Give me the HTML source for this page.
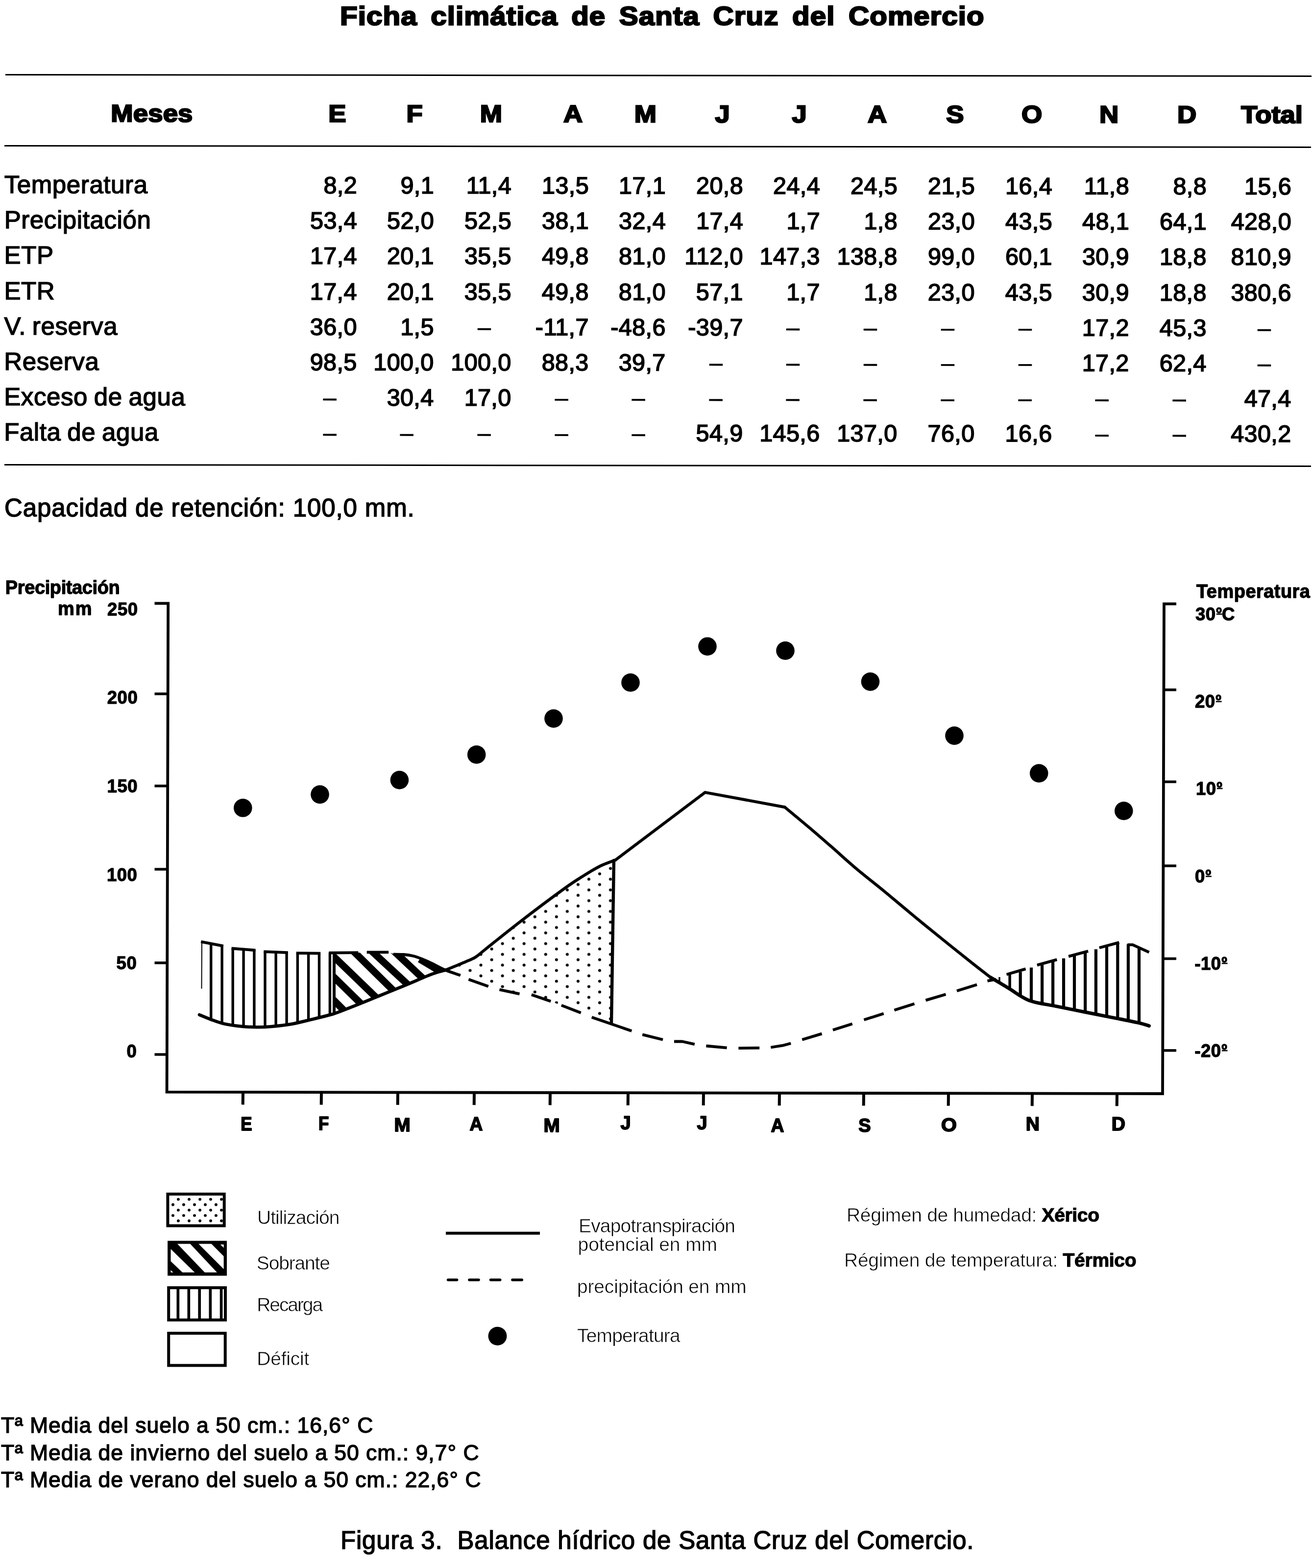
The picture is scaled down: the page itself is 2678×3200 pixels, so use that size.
<!DOCTYPE html>
<html lang="es">
<head>
<meta charset="utf-8">
<title>Ficha climática de Santa Cruz del Comercio</title>
<style>
html,body{margin:0;padding:0;background:#fff;}
body{width:2678px;height:3200px;position:relative;overflow:hidden;color:#000;
  font-family:"Liberation Sans","DejaVu Sans",sans-serif;font-size:51px;}
h1,p,table{margin:0;padding:0;position:absolute;white-space:nowrap;}
.title{transform:scaleX(1.09);transform-origin:0 50%;font-size:53.5px;line-height:70px;font-weight:bold;letter-spacing:1.0px;word-spacing:9.35px;
  -webkit-text-stroke:2.6px #000;}
hr.rule{position:absolute;margin:0;padding:0;border:0;height:3.2px;background:#000;
  transform:rotate(0.065deg);transform-origin:0 50%;}
table.ficha{transform:rotate(0.065deg);transform-origin:0 0;border-collapse:separate;border-spacing:0;table-layout:fixed;}
table.ficha th,table.ficha td{padding:0;margin:0;overflow:visible;white-space:nowrap;box-sizing:border-box;
  vertical-align:top;line-height:60px;}
table.ficha thead th{height:144.9px;padding-top:46.97px;font-size:49.4px;font-weight:bold;
  text-align:center;-webkit-text-stroke:2.6px #000;}
table.ficha thead th span{display:inline-block;transform:scaleX(1.1);}
table.ficha thead th.m{padding-left:41.0px;letter-spacing:0.2px;}
table.ficha tbody th,table.ficha tbody td{height:72.2px;padding-top:6.10px;font-weight:normal;
  -webkit-text-stroke:1.5px #000;}
table.ficha tbody th{text-align:left;padding-left:0px;letter-spacing:0.6px;word-spacing:-2px;}
table.ficha tbody td{text-align:right;position:relative;left:2.4px;font-size:48.5px;-webkit-text-stroke:1.7px #000;letter-spacing:0.4px;padding-right:0px;}
table.ficha tbody td.d{padding-right:41.8px;letter-spacing:0;-webkit-text-stroke:0.6px #000;}
table.ficha tbody td:last-child{padding-right:41px;}
table.ficha tbody td.d:last-child{padding-right:82.8px;}
table.ficha tbody tr.first th,table.ficha tbody tr.first td{height:114.22px;padding-top:48.12px;}
table.ficha tbody tr.last th,table.ficha tbody tr.last td{height:100.78px;}
.cap{line-height:60px;letter-spacing:0.9px;-webkit-text-stroke:1.5px #000;}
svg{position:absolute;left:0;top:0;}
svg text{font-family:"Liberation Sans","DejaVu Sans",sans-serif;fill:#000;}
.note{font-size:44.5px;line-height:56px;letter-spacing:1.0px;-webkit-text-stroke:1.4px #000;}
.figcap{line-height:60px;letter-spacing:0.8px;-webkit-text-stroke:1.5px #000;}
</style>
</head>
<body>
<h1 class="title" style="left:693.8px;top:-1.55px">Ficha climática de Santa Cruz del Comercio</h1>
<hr class="rule" style="left:10.5px;top:150.90px;width:2665.5px">
<hr class="rule" style="left:9px;top:295.80px;width:2667px">
<hr class="rule" style="left:9px;top:947.00px;width:2667px">
<table class="ficha" style="left:9px;top:153.9px;width:2666px">
<colgroup><col style="width:561px"><col style="width:157px"><col style="width:157px"><col style="width:158px"><col style="width:158px"><col style="width:157px"><col style="width:158px"><col style="width:157px"><col style="width:158px"><col style="width:158px"><col style="width:158px"><col style="width:157px"><col style="width:158px"><col style="width:214px"></colgroup>
<thead><tr>
<th class="m"><span>Meses</span></th>
<th style="padding-left:79.0px"><span>E</span></th>
<th style="padding-left:81.0px"><span>F</span></th>
<th style="padding-left:79.0px"><span>M</span></th>
<th style="padding-left:98.0px"><span>A</span></th>
<th style="padding-left:78.0px"><span>M</span></th>
<th style="padding-left:77.0px"><span>J</span></th>
<th style="padding-left:77.0px"><span>J</span></th>
<th style="padding-left:80.0px"><span>A</span></th>
<th style="padding-left:81.0px"><span>S</span></th>
<th style="padding-left:79.0px"><span>O</span></th>
<th style="padding-left:79.0px"><span>N</span></th>
<th style="padding-left:82.0px"><span>D</span></th>
<th style="padding-left:56.0px"><span>Total</span></th>
</tr></thead>
<tbody>
<tr class="first"><th scope="row">Temperatura</th><td>8,2</td><td>9,1</td><td>11,4</td><td>13,5</td><td>17,1</td><td>20,8</td><td>24,4</td><td>24,5</td><td>21,5</td><td>16,4</td><td>11,8</td><td>8,8</td><td>15,6</td></tr>
<tr><th scope="row">Precipitación</th><td>53,4</td><td>52,0</td><td>52,5</td><td>38,1</td><td>32,4</td><td>17,4</td><td>1,7</td><td>1,8</td><td>23,0</td><td>43,5</td><td>48,1</td><td>64,1</td><td>428,0</td></tr>
<tr><th scope="row">ETP</th><td>17,4</td><td>20,1</td><td>35,5</td><td>49,8</td><td>81,0</td><td>112,0</td><td>147,3</td><td>138,8</td><td>99,0</td><td>60,1</td><td>30,9</td><td>18,8</td><td>810,9</td></tr>
<tr><th scope="row">ETR</th><td>17,4</td><td>20,1</td><td>35,5</td><td>49,8</td><td>81,0</td><td>57,1</td><td>1,7</td><td>1,8</td><td>23,0</td><td>43,5</td><td>30,9</td><td>18,8</td><td>380,6</td></tr>
<tr><th scope="row">V. reserva</th><td>36,0</td><td>1,5</td><td class="d">–</td><td>-11,7</td><td>-48,6</td><td>-39,7</td><td class="d">–</td><td class="d">–</td><td class="d">–</td><td class="d">–</td><td>17,2</td><td>45,3</td><td class="d">–</td></tr>
<tr><th scope="row">Reserva</th><td>98,5</td><td>100,0</td><td>100,0</td><td>88,3</td><td>39,7</td><td class="d">–</td><td class="d">–</td><td class="d">–</td><td class="d">–</td><td class="d">–</td><td>17,2</td><td>62,4</td><td class="d">–</td></tr>
<tr><th scope="row">Exceso de agua</th><td class="d">–</td><td>30,4</td><td>17,0</td><td class="d">–</td><td class="d">–</td><td class="d">–</td><td class="d">–</td><td class="d">–</td><td class="d">–</td><td class="d">–</td><td class="d">–</td><td class="d">–</td><td>47,4</td></tr>
<tr class="last"><th scope="row">Falta de agua</th><td class="d">–</td><td class="d">–</td><td class="d">–</td><td class="d">–</td><td class="d">–</td><td>54,9</td><td>145,6</td><td>137,0</td><td>76,0</td><td>16,6</td><td class="d">–</td><td class="d">–</td><td>430,2</td></tr>
</tbody></table>
<p class="cap" style="left:9.0px;top:1006.52px">Capacidad de retención: 100,0 mm.</p>
<svg width="2678" height="3200" viewBox="0 0 2678 3200" fill="none" stroke="#000" stroke-width="6">
<defs>
<pattern id="dots" patternUnits="userSpaceOnUse" x="342.40" y="1339.42" width="44.08" height="21.92">
<circle cx="0" cy="5.48" r="3.0" fill="#000" stroke="none"/><circle cx="44.08" cy="5.48" r="3.0" fill="#000" stroke="none"/>
<circle cx="22.04" cy="16.44" r="3.0" fill="#000" stroke="none"/>
</pattern>
</defs>
<g class="axes" stroke-width="5.8" stroke-linecap="butt">
<path d="M315.5 1231.3 L343.2 1231.3 L340.6 2228.6 L2373.0 2232.0 L2376.0 1232.3 L2401 1232.3" stroke-linejoin="miter"/>
<line x1="315.5" y1="1416" x2="342.7" y2="1416" stroke-width="5.4"/>
<line x1="315.5" y1="1604" x2="342.2" y2="1604" stroke-width="5.4"/>
<line x1="315.5" y1="1774" x2="341.8" y2="1774" stroke-width="5.4"/>
<line x1="315.5" y1="1965" x2="341.3" y2="1965" stroke-width="5.4"/>
<line x1="315.5" y1="2152" x2="340.8" y2="2152" stroke-width="5.4"/>
<line x1="2375.5" y1="1407.8" x2="2401" y2="1407.8" stroke-width="5.4"/>
<line x1="2374.9" y1="1595.5" x2="2401" y2="1595.5" stroke-width="5.4"/>
<line x1="2374.4" y1="1767" x2="2401" y2="1767" stroke-width="5.4"/>
<line x1="2373.8" y1="1956.5" x2="2401" y2="1956.5" stroke-width="5.4"/>
<line x1="2373.3" y1="2143.8" x2="2401" y2="2143.8" stroke-width="5.4"/>
<line x1="496" y1="2228.9" x2="495.7" y2="2254.4" stroke-width="6"/>
<line x1="656" y1="2229.1" x2="655.7" y2="2254.6" stroke-width="6"/>
<line x1="812" y1="2229.4" x2="811.7" y2="2254.9" stroke-width="6"/>
<line x1="968" y1="2229.6" x2="967.7" y2="2255.1" stroke-width="6"/>
<line x1="1123" y1="2229.9" x2="1122.7" y2="2255.4" stroke-width="6"/>
<line x1="1282" y1="2230.2" x2="1281.7" y2="2255.7" stroke-width="6"/>
<line x1="1436" y1="2230.4" x2="1435.7" y2="2255.9" stroke-width="6"/>
<line x1="1591" y1="2230.7" x2="1590.7" y2="2256.2" stroke-width="6"/>
<line x1="1763" y1="2231.0" x2="1762.7" y2="2256.5" stroke-width="6"/>
<line x1="1936" y1="2231.3" x2="1935.7" y2="2256.8" stroke-width="6"/>
<line x1="2107" y1="2231.6" x2="2106.7" y2="2257.1" stroke-width="6"/>
<line x1="2280" y1="2231.8" x2="2279.7" y2="2257.3" stroke-width="6"/>
</g>
<g class="labels" font-weight="bold" stroke-linejoin="round">
<text x="10.8" y="1211.5" font-size="38" textLength="234" lengthAdjust="spacing" stroke="#000" stroke-width="1.3" stroke-linejoin="round">Precipitación</text>
<text x="118" y="1255" font-size="38" textLength="69.5" lengthAdjust="spacing" stroke="#000" stroke-width="1.3" stroke-linejoin="round">mm</text>
<text x="281.5" y="1255.7" font-size="36.5" text-anchor="end" stroke="#000" stroke-width="1.3" stroke-linejoin="round" letter-spacing="0.5">250</text>
<text x="281.2" y="1436.3" font-size="36.5" text-anchor="end" stroke="#000" stroke-width="1.3" stroke-linejoin="round" letter-spacing="0.5">200</text>
<text x="281" y="1616.7" font-size="36.5" text-anchor="end" stroke="#000" stroke-width="1.3" stroke-linejoin="round" letter-spacing="0.5">150</text>
<text x="280.4" y="1797.7" font-size="36.5" text-anchor="end" stroke="#000" stroke-width="1.3" stroke-linejoin="round" letter-spacing="0.5">100</text>
<text x="279.2" y="1977.7" font-size="36.5" text-anchor="end" stroke="#000" stroke-width="1.3" stroke-linejoin="round" letter-spacing="0.5">50</text>
<text x="279.2" y="2158.2" font-size="36.5" text-anchor="end" stroke="#000" stroke-width="1.3" stroke-linejoin="round" letter-spacing="0.5">0</text>
<text x="2442" y="1220.4" font-size="38" textLength="232" lengthAdjust="spacing" stroke="#000" stroke-width="1.3" stroke-linejoin="round">Temperatura</text>
<text x="2440" y="1265.7" font-size="36.5" stroke="#000" stroke-width="1.3" letter-spacing="0.4">30<tspan font-size="31.5" dy="-4" dx="0.8">º</tspan><tspan dy="4">C</tspan></text>
<line x1="2482.8" y1="1253.3" x2="2494.6" y2="1253.3" stroke-width="2.6"/>
<text x="2439" y="1444.2" font-size="36.5" stroke="#000" stroke-width="1.3" letter-spacing="0.4">20<tspan font-size="31.5" dy="-4" dx="0.8">º</tspan></text>
<line x1="2481.8" y1="1431.8" x2="2493.6" y2="1431.8" stroke-width="2.6"/>
<text x="2441" y="1621.5" font-size="36.5" stroke="#000" stroke-width="1.3" letter-spacing="0.4">10<tspan font-size="31.5" dy="-4" dx="0.8">º</tspan></text>
<line x1="2483.8" y1="1609.1" x2="2495.6" y2="1609.1" stroke-width="2.6"/>
<text x="2439" y="1801.0" font-size="36.5" stroke="#000" stroke-width="1.3" letter-spacing="0.4">0<tspan font-size="31.5" dy="-4" dx="0.8">º</tspan></text>
<line x1="2461.1" y1="1788.6" x2="2472.9" y2="1788.6" stroke-width="2.6"/>
<text x="2438.5" y="1978.5" font-size="36.5" stroke="#000" stroke-width="1.3" letter-spacing="0.4">-10<tspan font-size="31.5" dy="-4" dx="0.8">º</tspan></text>
<line x1="2493.8" y1="1966.1" x2="2505.6" y2="1966.1" stroke-width="2.6"/>
<text x="2438.5" y="2156.5" font-size="36.5" stroke="#000" stroke-width="1.3" letter-spacing="0.4">-20<tspan font-size="31.5" dy="-4" dx="0.8">º</tspan></text>
<line x1="2493.8" y1="2144.1" x2="2505.6" y2="2144.1" stroke-width="2.6"/>
<text x="0" y="0" font-size="38" text-anchor="middle" stroke="#000" stroke-width="1.9" stroke-linejoin="round" transform="translate(503 2307.4) scale(0.92 1)">E</text>
<text x="0" y="0" font-size="38" text-anchor="middle" stroke="#000" stroke-width="1.9" stroke-linejoin="round" transform="translate(660.7 2306.4) scale(0.92 1)">F</text>
<text x="0" y="0" font-size="38" text-anchor="middle" stroke="#000" stroke-width="1.9" stroke-linejoin="round" transform="translate(821 2308.9) scale(1.05 1)">M</text>
<text x="0" y="0" font-size="38" text-anchor="middle" stroke="#000" stroke-width="1.9" stroke-linejoin="round" transform="translate(972 2307.4) scale(0.98 1)">A</text>
<text x="0" y="0" font-size="38" text-anchor="middle" stroke="#000" stroke-width="1.9" stroke-linejoin="round" transform="translate(1126 2309.9) scale(1.05 1)">M</text>
<text x="0" y="0" font-size="38" text-anchor="middle" stroke="#000" stroke-width="1.9" stroke-linejoin="round" transform="translate(1277 2304.9) scale(1.0 1)">J</text>
<text x="0" y="0" font-size="38" text-anchor="middle" stroke="#000" stroke-width="1.9" stroke-linejoin="round" transform="translate(1433 2305.2) scale(1.0 1)">J</text>
<text x="0" y="0" font-size="38" text-anchor="middle" stroke="#000" stroke-width="1.9" stroke-linejoin="round" transform="translate(1587 2309.6) scale(0.98 1)">A</text>
<text x="0" y="0" font-size="38" text-anchor="middle" stroke="#000" stroke-width="1.9" stroke-linejoin="round" transform="translate(1765 2309.6) scale(1.0 1)">S</text>
<text x="0" y="0" font-size="38" text-anchor="middle" stroke="#000" stroke-width="1.9" stroke-linejoin="round" transform="translate(1937 2309.0) scale(1.08 1)">O</text>
<text x="0" y="0" font-size="38" text-anchor="middle" stroke="#000" stroke-width="1.9" stroke-linejoin="round" transform="translate(2108 2307.4) scale(1.03 1)">N</text>
<text x="0" y="0" font-size="38" text-anchor="middle" stroke="#000" stroke-width="1.9" stroke-linejoin="round" transform="translate(2283 2307.4) scale(1.03 1)">D</text>
</g>
<g class="temp" fill="#000" stroke="none">
<circle cx="495.8" cy="1648.8" r="18.8"/>
<circle cx="653" cy="1621.4" r="18.8"/>
<circle cx="815.4" cy="1591.9" r="18.8"/>
<circle cx="972.7" cy="1540.0" r="18.8"/>
<circle cx="1130" cy="1466.4" r="18.8"/>
<circle cx="1287" cy="1393.0" r="18.8"/>
<circle cx="1444" cy="1319.2" r="18.8"/>
<circle cx="1603" cy="1327.9" r="18.8"/>
<circle cx="1776.5" cy="1391.1" r="18.8"/>
<circle cx="1948" cy="1501.4" r="18.8"/>
<circle cx="2120.7" cy="1578.1" r="18.8"/>
<circle cx="2293.8" cy="1654.9" r="18.8"/>
</g>
<clipPath id="sobclip"><polygon points="682.0,1944.4 731.3,1944.2 793.2,1943.6 802.9,1946.5 824.2,1948.0 843.5,1951.0 862.9,1957.7 882.2,1966.4 909.3,1979.8 882.2,1987.8 824.2,2011.9 746.8,2043.5 689.6,2066.0 682.0,2069.0"/></clipPath>
<g class="sobrante" clip-path="url(#sobclip)" stroke-width="14.5" stroke-linecap="butt">
<line x1="654.6" y1="2014.6" x2="730.5" y2="2090.5"/>
<line x1="654.3" y1="1967.5" x2="763.7" y2="2074.7"/>
<line x1="654.1" y1="1926.1" x2="794.9" y2="2062.0"/>
<line x1="697.0" y1="1917.1" x2="831.4" y2="2049.7"/>
<line x1="732.9" y1="1917.0" x2="859.3" y2="2034.3"/>
<line x1="783.4" y1="1921.6" x2="890.0" y2="2021.9"/>
<line x1="856.7" y1="1957.3" x2="934.0" y2="2003.4"/>
</g>
<polygon class="utilizacion" points="909.3,1979.8 950.0,1963.0 970.6,1953.4 1059.4,1882.8 1150.4,1814.5 1218.7,1770.1 1253.0,1756.0 1248.0,2088.0 1185.7,2067.0 1124.2,2043.6 1060.5,2028.3 996.8,2012.9 939.8,1990.5" fill="url(#dots)" stroke="none"/>
<g class="etp" stroke-width="6" stroke-linejoin="round" stroke-linecap="round">
<path d="M407.0 2070.9 C410.9 2072.5 422.3 2077.5 430.7 2080.6 C439.1 2083.7 446.5 2086.9 457.4 2089.3 C468.3 2091.7 484.7 2093.8 496.0 2095.0 C507.3 2096.2 515.3 2096.2 525.0 2096.2 C534.7 2096.2 542.7 2096.0 554.0 2095.0 C565.3 2094.0 580.0 2092.5 592.9 2090.3 C605.8 2088.1 618.8 2084.7 631.6 2081.6 C644.5 2078.5 660.3 2074.6 670.0 2072.0 C679.7 2069.4 676.8 2070.8 689.6 2066.0 C702.4 2061.2 724.4 2052.5 746.8 2043.5 C769.2 2034.5 801.6 2021.2 824.2 2011.9 C846.8 2002.6 868.0 1993.2 882.2 1987.8 C896.4 1982.4 904.8 1981.1 909.3 1979.8" stroke-width="6.5"/>
<path d="M909.3 1979.8 C916.1 1977.0 939.8 1967.4 950.0 1963.0 C960.2 1958.6 963.9 1957.6 970.6 1953.4 C977.3 1949.2 975.2 1949.8 990.0 1938.0 C1004.8 1926.2 1032.7 1903.4 1059.4 1882.8 C1086.1 1862.2 1128.6 1830.3 1150.4 1814.5 C1172.2 1798.7 1177.6 1795.8 1190.0 1788.0 C1202.4 1780.2 1214.0 1773.0 1225.0 1767.5 C1236.0 1762.0 1250.8 1757.3 1255.9 1755.3"/>
<path d="M1255.9 1755.3 L1439.2 1617.1 L1601.8 1647.2"/>
<path d="M1601.8 1647.2 C1610.2 1654.2 1636.1 1675.6 1652.2 1689.2 C1668.3 1702.8 1682.2 1715.0 1698.3 1729.1 C1714.4 1743.2 1731.1 1758.6 1749.0 1773.7 C1766.9 1788.8 1786.2 1803.6 1805.9 1819.8 C1825.6 1836.0 1846.8 1854.1 1867.3 1871.0 C1887.8 1887.9 1909.1 1905.1 1928.8 1921.0 C1948.5 1936.9 1970.0 1954.1 1985.5 1966.4 C2001.0 1978.7 2015.9 1990.0 2022.0 1994.7"/>
<path d="M2022.0 1994.7 C2025.0 1996.5 2033.7 2001.7 2040.2 2005.6 C2046.7 2009.5 2054.1 2013.9 2061.1 2018.3 C2068.1 2022.7 2075.5 2028.1 2082.0 2032.0 C2088.5 2035.9 2093.7 2039.0 2100.0 2041.5 C2106.3 2044.0 2111.7 2045.2 2120.0 2047.0 C2128.3 2048.8 2137.6 2050.1 2149.8 2052.4 C2162.0 2054.8 2178.6 2058.2 2193.0 2061.1 C2207.4 2064.0 2221.9 2066.9 2236.3 2069.8 C2250.7 2072.7 2265.1 2075.5 2279.5 2078.4 C2293.9 2081.3 2311.8 2084.6 2322.8 2087.1 C2333.8 2089.6 2341.7 2092.5 2345.5 2093.6" stroke-width="7"/>
<line x1="1253" y1="1756" x2="1248" y2="2088" stroke-width="6.4"/>
</g>
<g class="prec" stroke-width="5.8" stroke-linecap="butt" stroke-linejoin="round">
<line x1="410.3" y1="1921.9" x2="455.8" y2="1930.6" stroke-linecap="butt"/>
<line x1="472.5" y1="1935.5" x2="521.6" y2="1939.3" stroke-linecap="butt"/>
<line x1="538.3" y1="1942.2" x2="587.8" y2="1944.2" stroke-linecap="butt"/>
<line x1="604.7" y1="1945.2" x2="654.2" y2="1945.7" stroke-linecap="butt"/>
<path d="M671.3 1944.6 L731.3 1944.2"/>
<path d="M748.7 1943.4 L793.2 1943.4"/>
<path d="M802.9 1947.5 C806.5 1947.6 817.4 1947.4 824.2 1948.0 C831.0 1948.6 837.0 1949.4 843.5 1951.0 C850.0 1952.6 856.4 1955.1 862.9 1957.7 C869.4 1960.3 874.5 1962.7 882.2 1966.4 C889.9 1970.1 899.7 1975.8 909.3 1979.8 C918.9 1983.8 934.7 1988.7 939.8 1990.5"/>
<path d="M956.5 1998.7 L996.8 2012.9"/>
<path d="M1019.5 2019.7 L1060.5 2028.3"/>
<path d="M1084.9 2029.9 L1124.2 2043.6"/>
<path d="M1145.9 2051.6 L1185.7 2067.0"/>
<path d="M1207.8 2076.1 L1289.3 2103.9"/>
<path d="M1311.2 2111.4 L1353.0 2121.7"/>
<path d="M1376.0 2125.5 L1392.7 2125.5 L1417.8 2131.1"/>
<path d="M1441.4 2134.5 L1483.6 2138.3"/>
<path d="M1507.4 2139.1 L1550.2 2138.6"/>
<path d="M1573.3 2137.5 L1597.6 2133.7 L1614.2 2129.3"/>
<path d="M1637.3 2121.7 L1677.5 2109.6"/>
<path d="M1700.0 2102.0 L1739.7 2089.5"/>
<path d="M1763.5 2081.3 L1803.7 2068.5"/>
<path d="M1825.5 2061.4 L1866.5 2048.6"/>
<path d="M1889.5 2041.4 L1930.5 2029.3"/>
<path d="M1953.0 2022.2 L1994.0 2009.6"/>
<path d="M2015.5 2001.9 L2033.0 1998.6"/>
<path d="M2054.6 1988.7 L2093.5 1977.4"/>
<path d="M2116.9 1969.6 L2157.3 1958.4"/>
<path d="M2181.1 1951.9 L2221.1 1941.1"/>
<path d="M2243.9 1934.2 L2284.3 1923.4"/>
<path d="M2301.2 1928.1 L2312.0 1928.1 L2345.5 1943.3"/>
</g>
<g class="recarga" stroke-width="5.4" stroke-linecap="butt">
<line x1="412" y1="1923" x2="411.5" y2="2017.7" stroke-width="2"/>
<line x1="430.7" y1="1925.8" x2="430.7" y2="2080.6"/>
<line x1="453.1" y1="1930.1" x2="453.1" y2="2087.9"/>
<line x1="475.2" y1="1935.7" x2="475.2" y2="2091.9"/>
<line x1="497.1" y1="1937.4" x2="497.1" y2="2095.0"/>
<line x1="518.9" y1="1939.1" x2="518.9" y2="2095.9"/>
<line x1="541" y1="1942.3" x2="541" y2="2095.5"/>
<line x1="563.1" y1="1943.2" x2="563.1" y2="2093.9"/>
<line x1="585.1" y1="1944.1" x2="585.1" y2="2091.2"/>
<line x1="607.4" y1="1945.2" x2="607.4" y2="2087.0"/>
<line x1="629.6" y1="1945.5" x2="629.6" y2="2082.0"/>
<line x1="651.5" y1="1945.7" x2="651.5" y2="2076.6"/>
<line x1="673.4" y1="1944" x2="673.4" y2="2071"/>
<line x1="682" y1="1944" x2="682" y2="2070" stroke-width="6"/>
<line x1="2061.1" y1="1988" x2="2061.1" y2="2018" stroke-width="5.5"/>
<line x1="2040" y1="1994" x2="2040" y2="2004" stroke-width="3.5"/>
<line x1="2082.7" y1="1983.3" x2="2082.7" y2="2031.3" stroke-width="6.2"/>
<line x1="2105" y1="1974.6" x2="2105" y2="2042.1" stroke-width="6.2"/>
<line x1="2127.1" y1="1969.2" x2="2127.1" y2="2048.6" stroke-width="6.2"/>
<line x1="2149.1" y1="1961.6" x2="2149.1" y2="2052.9" stroke-width="6.2"/>
<line x1="2171" y1="1955.8" x2="2171" y2="2056.1" stroke-width="6.2"/>
<line x1="2193" y1="1949.7" x2="2193" y2="2061.5" stroke-width="6.2"/>
<line x1="2215.1" y1="1943.3" x2="2215.1" y2="2065.9" stroke-width="6.2"/>
<line x1="2236.9" y1="1937.2" x2="2236.9" y2="2070.2" stroke-width="6.2"/>
<line x1="2259" y1="1931.4" x2="2259" y2="2075.6" stroke-width="6.2"/>
<line x1="2281.3" y1="1923.8" x2="2281.3" y2="2078.8" stroke-width="6.2"/>
<line x1="2302.9" y1="1927" x2="2302.9" y2="2083.2" stroke-width="6.2"/>
<line x1="2325" y1="1935.7" x2="2325" y2="2088.6" stroke-width="6.2"/>
</g>
<g class="legend">
<circle cx="363.9" cy="2447.6" r="2.9" fill="#000" stroke="none"/>
<circle cx="386" cy="2447.6" r="2.9" fill="#000" stroke="none"/>
<circle cx="408.1" cy="2447.6" r="2.9" fill="#000" stroke="none"/>
<circle cx="430" cy="2447.6" r="2.9" fill="#000" stroke="none"/>
<circle cx="452" cy="2447.6" r="2.9" fill="#000" stroke="none"/>
<circle cx="353" cy="2458.5" r="2.9" fill="#000" stroke="none"/>
<circle cx="374.9" cy="2458.5" r="2.9" fill="#000" stroke="none"/>
<circle cx="397" cy="2458.5" r="2.9" fill="#000" stroke="none"/>
<circle cx="419" cy="2458.5" r="2.9" fill="#000" stroke="none"/>
<circle cx="440.9" cy="2458.5" r="2.9" fill="#000" stroke="none"/>
<circle cx="363.9" cy="2469.6" r="2.9" fill="#000" stroke="none"/>
<circle cx="386" cy="2469.6" r="2.9" fill="#000" stroke="none"/>
<circle cx="408.1" cy="2469.6" r="2.9" fill="#000" stroke="none"/>
<circle cx="430" cy="2469.6" r="2.9" fill="#000" stroke="none"/>
<circle cx="452" cy="2469.6" r="2.9" fill="#000" stroke="none"/>
<circle cx="353" cy="2480.6" r="2.9" fill="#000" stroke="none"/>
<circle cx="374.9" cy="2480.6" r="2.9" fill="#000" stroke="none"/>
<circle cx="397" cy="2480.6" r="2.9" fill="#000" stroke="none"/>
<circle cx="419" cy="2480.6" r="2.9" fill="#000" stroke="none"/>
<circle cx="440.9" cy="2480.6" r="2.9" fill="#000" stroke="none"/>
<circle cx="363.9" cy="2491.5" r="2.9" fill="#000" stroke="none"/>
<circle cx="386" cy="2491.5" r="2.9" fill="#000" stroke="none"/>
<circle cx="408.1" cy="2491.5" r="2.9" fill="#000" stroke="none"/>
<circle cx="430" cy="2491.5" r="2.9" fill="#000" stroke="none"/>
<circle cx="452" cy="2491.5" r="2.9" fill="#000" stroke="none"/>
<rect x="342.4" y="2436.9" width="115.3" height="64.6" stroke-width="6" fill="none"/>
<rect x="342.1" y="2532.3" width="120.9" height="71.2" fill="#000" stroke="none"/>
<g fill="#fff" stroke="none">
<polygon points="362.1,2538.6 388.3,2538.6 442.9,2596.7 417.9,2596.7"/>
<polygon points="405.4,2538.6 431.6,2538.6 456.6,2563.7 456.6,2589.9"/>
<polygon points="348.5,2548.9 348.5,2573.9 372.4,2596.7 397.4,2596.7"/>
<polygon points="449.8,2539.8 456.6,2539.8 456.6,2546.6"/>
<polygon points="348.5,2592.3 348.5,2596.7 353.5,2596.7"/>
</g>
<line x1="363.3" y1="2628" x2="363.3" y2="2694" stroke-width="5.7"/>
<line x1="385.3" y1="2628" x2="385.3" y2="2694" stroke-width="5.7"/>
<line x1="407.2" y1="2628" x2="407.2" y2="2694" stroke-width="5.7"/>
<line x1="429.3" y1="2628" x2="429.3" y2="2694" stroke-width="5.7"/>
<line x1="451.6" y1="2628" x2="451.6" y2="2694" stroke-width="5.7"/>
<rect x="344.2" y="2628.0" width="115.8" height="65.8" stroke-width="6" fill="none"/>
<rect x="344.2" y="2720.9" width="115.5" height="65.7" stroke-width="6" fill="none"/>
<text x="524.9" y="2498.3" font-size="39" textLength="168.5" lengthAdjust="spacing" stroke="#fff" stroke-width="0.7">Utilización</text>
<text x="523.8" y="2591" font-size="39" textLength="150.2" lengthAdjust="spacing" stroke="#fff" stroke-width="0.7">Sobrante</text>
<text x="524.2" y="2675.8" font-size="39" textLength="135" lengthAdjust="spacing" stroke="#fff" stroke-width="0.7">Recarga</text>
<text x="524.2" y="2786.2" font-size="39" textLength="107.2" lengthAdjust="spacing" stroke="#fff" stroke-width="0.7">Déficit</text>
<line x1="910" y1="2516.8" x2="1102" y2="2516.8" stroke-width="6"/>
<line x1="914.6" y1="2612" x2="932.6" y2="2612" stroke-width="5.6" stroke-linecap="round"/>
<line x1="958" y1="2612" x2="977" y2="2612" stroke-width="5.6" stroke-linecap="round"/>
<line x1="1001.6" y1="2612" x2="1020.7" y2="2612" stroke-width="5.6" stroke-linecap="round"/>
<line x1="1046" y1="2612" x2="1065.2" y2="2612" stroke-width="5.6" stroke-linecap="round"/>
<circle cx="1015.5" cy="2726.8" r="19" fill="#000" stroke="none"/>
<text x="1181" y="2514.7" font-size="39" textLength="320" lengthAdjust="spacing" stroke="#fff" stroke-width="0.7">Evapotranspiración</text>
<text x="1179.6" y="2553" font-size="39" textLength="284.4" lengthAdjust="spacing" stroke="#fff" stroke-width="0.7">potencial en mm</text>
<text x="1178" y="2638.7" font-size="39" textLength="345.8" lengthAdjust="spacing" stroke="#fff" stroke-width="0.7">precipitación en mm</text>
<text x="1178" y="2738.5" font-size="39" textLength="210.6" lengthAdjust="spacing" stroke="#fff" stroke-width="0.7">Temperatura</text>
<text x="1728" y="2492.7" font-size="39" stroke="#fff" stroke-width="0.7" textLength="516" lengthAdjust="spacing">Régimen de humedad: <tspan font-weight="bold" stroke="#000" stroke-width="1.2">Xérico</tspan></text>
<text x="1723" y="2585" font-size="39" stroke="#fff" stroke-width="0.7" textLength="596.6" lengthAdjust="spacing">Régimen de temperatura: <tspan font-weight="bold" stroke="#000" stroke-width="1.2">Térmico</tspan></text>
</g>
</svg>
<p class="note" style="left:2px;top:2881.47px">Tª Media del suelo a 50 cm.: 16,6° C</p>
<p class="note" style="left:2px;top:2936.77px">Tª Media de invierno del suelo a 50 cm.: 9,7° C</p>
<p class="note" style="left:2px;top:2991.77px">Tª Media de verano del suelo a 50 cm.: 22,6° C</p>
<p class="figcap" style="left:695px;top:3113.52px">Figura 3.&nbsp; Balance hídrico de Santa Cruz del Comercio.</p>
</body>
</html>
